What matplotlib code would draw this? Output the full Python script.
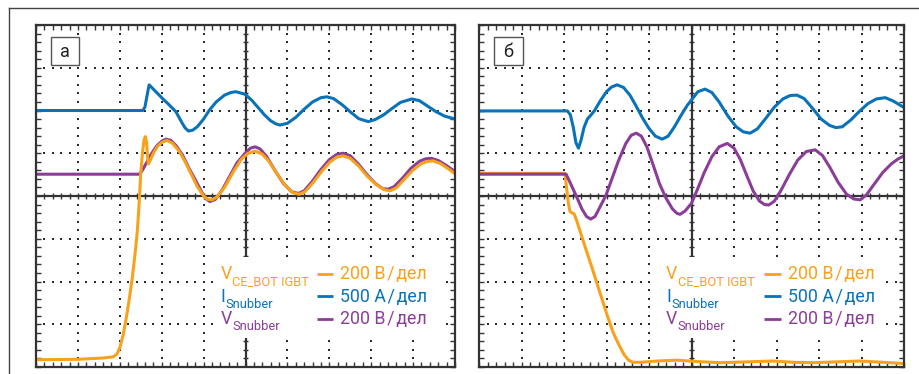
import numpy as np
import matplotlib
matplotlib.use('Agg')
import matplotlib.pyplot as plt
from matplotlib.patches import Rectangle
from matplotlib.lines import Line2D

plt.rcParams['font.family'] = ['Roboto', 'DejaVu Sans']

ORANGE = '#F8A21C'
BLUE = '#0A72B8'
PURPLE = '#8B3E97'
GRIDC = '#2b2b2b'

# ---------------- data (screen divisions: x 0..10, y -4..4) ----------------
# Panel a
a_blue_x = [0, 2.55, 2.60, 2.65, 2.70, 2.86, 3.02, 3.18, 3.34, 3.48, 3.56, 3.64, 3.74, 3.85, 4.0, 4.14, 4.3, 4.5,
            4.65, 4.77, 4.99, 5.15, 5.3, 5.45, 5.6, 5.72, 5.82, 6.0, 6.2, 6.4, 6.6, 6.8, 6.94, 7.1, 7.3, 7.5,
            7.7, 7.93, 8.1, 8.3, 8.5, 8.7, 8.97, 9.15, 9.35, 9.55, 9.75, 10.0]
a_blue_y = [2.0, 2.0, 2.08, 2.35, 2.60, 2.44, 2.28, 2.13, 1.97, 1.72, 1.59, 1.52, 1.54, 1.62, 1.80, 2.01, 2.20, 2.36,
            2.42, 2.44, 2.38, 2.24, 2.07, 1.90, 1.76, 1.69, 1.66, 1.70, 1.84, 2.03, 2.20, 2.30, 2.32, 2.28, 2.14, 1.97,
            1.81, 1.74, 1.79, 1.90, 2.05, 2.19, 2.27, 2.23, 2.10, 1.97, 1.87, 1.80]

a_purple_x = [0, 2.47, 2.55, 2.65, 2.75, 2.88, 3.0, 3.10, 3.22, 3.35, 3.5, 3.65, 3.8, 3.95, 4.05, 4.15, 4.28, 4.45,
              4.6, 4.8, 5.01, 5.12, 5.23, 5.35, 5.5, 5.7, 5.9, 6.1, 6.26, 6.4, 6.6, 6.8, 7.0, 7.17, 7.33, 7.5, 7.7,
              7.9, 8.1, 8.28, 8.41, 8.55, 8.75, 8.95, 9.15, 9.3, 9.44, 9.6, 9.8, 10.0]
a_purple_y = [0.51, 0.51, 0.62, 0.80, 0.98, 1.17, 1.28, 1.33, 1.30, 1.17, 0.95, 0.65, 0.38, 0.10, -0.06, -0.13, -0.08, 0.15,
              0.42, 0.78, 1.02, 1.12, 1.15, 1.10, 0.93, 0.60, 0.30, 0.10, 0.06, 0.12, 0.35, 0.62, 0.85, 0.97, 1.00, 0.94,
              0.74, 0.50, 0.29, 0.17, 0.16, 0.22, 0.42, 0.65, 0.81, 0.87, 0.88, 0.83, 0.71, 0.57]

a_orange_x = [0, 1.0, 1.6, 1.85, 1.93, 2.0, 2.08, 2.15, 2.22, 2.30, 2.37, 2.42, 2.46, 2.50, 2.54, 2.58, 2.61, 2.64,
              2.66, 2.68, 2.72, 2.80, 2.90, 3.0, 3.12, 3.25, 3.4, 3.55, 3.7, 3.85, 4.0, 4.1, 4.2, 4.32, 4.5, 4.7,
              4.9, 5.05, 5.23, 5.4, 5.55, 5.75, 5.95, 6.13, 6.28, 6.42, 6.62, 6.82, 7.02, 7.18, 7.33, 7.5, 7.7,
              7.9, 8.1, 8.3, 8.45, 8.6, 8.8, 9.0, 9.2, 9.35, 9.48, 9.65, 9.82, 10.0]
a_orange_y = [-3.83, -3.82, -3.79, -3.76, -3.70, -3.55, -3.25, -2.88, -2.45, -1.90, -1.30, -0.80, -0.20, 0.52, 1.00, 1.32, 1.39, 1.25,
              0.95, 0.75, 0.82, 1.00, 1.16, 1.25, 1.30, 1.24, 1.07, 0.82, 0.52, 0.22, 0.00, -0.08, -0.09, -0.02, 0.20, 0.55,
              0.86, 0.99, 1.05, 0.98, 0.82, 0.52, 0.25, 0.08, 0.04, 0.10, 0.32, 0.58, 0.80, 0.91, 0.94, 0.88, 0.70,
              0.47, 0.28, 0.15, 0.12, 0.19, 0.40, 0.61, 0.76, 0.81, 0.82, 0.76, 0.65, 0.52]

# Panel b
b_blue_x = [0, 2.08, 2.15, 2.22, 2.28, 2.34, 2.40, 2.47, 2.55, 2.63, 2.72, 2.85, 3.0, 3.12, 3.25, 3.4, 3.55, 3.7,
            3.85, 4.0, 4.15, 4.31, 4.45, 4.6, 4.75, 4.9, 5.01, 5.15, 5.32, 5.48, 5.65, 5.85, 6.05, 6.22, 6.38,
            6.55, 6.75, 6.95, 7.15, 7.32, 7.48, 7.65, 7.85, 8.05, 8.25, 8.40, 8.55, 8.75, 8.95, 9.15, 9.35,
            9.56, 9.75, 10.0]
b_blue_y = [1.99, 1.99, 1.90, 1.60, 1.25, 1.12, 1.30, 1.60, 1.80, 1.89, 2.00, 2.22, 2.44, 2.55, 2.60, 2.54, 2.36, 2.10,
            1.82, 1.58, 1.40, 1.33, 1.40, 1.62, 1.88, 2.12, 2.26, 2.44, 2.50, 2.42, 2.20, 1.88, 1.62, 1.50, 1.47,
            1.57, 1.82, 2.08, 2.27, 2.35, 2.36, 2.28, 2.05, 1.80, 1.65, 1.60, 1.62, 1.78, 1.98, 2.16, 2.27,
            2.30, 2.22, 2.07]

b_purple_x = [0, 2.05, 2.15, 2.28, 2.42, 2.53, 2.63, 2.73, 2.85, 2.98, 3.12, 3.28, 3.45, 3.58, 3.70, 3.82, 3.95, 4.1,
              4.25, 4.4, 4.55, 4.65, 4.73, 4.85, 5.0, 5.15, 5.3, 5.48, 5.65, 5.84, 6.0, 6.15, 6.3, 6.45, 6.6, 6.72,
              6.82, 6.95, 7.1, 7.3, 7.5, 7.7, 7.91, 8.08, 8.25, 8.45, 8.65, 8.82, 8.97, 9.12, 9.3, 9.5, 9.7,
              9.85, 10.0]
b_purple_y = [0.51, 0.51, 0.30, 0.02, -0.30, -0.48, -0.54, -0.48, -0.25, 0.00, 0.38, 0.82, 1.22, 1.42, 1.47, 1.40, 1.15, 0.72,
              0.28, -0.05, -0.30, -0.40, -0.43, -0.35, -0.17, 0.18, 0.55, 0.92, 1.15, 1.23, 1.12, 0.85, 0.48, 0.12, -0.12, -0.20,
              -0.21, -0.12, 0.12, 0.50, 0.84, 1.04, 1.08, 0.95, 0.68, 0.32, 0.04, -0.07, -0.09, 0.03, 0.28, 0.55, 0.75,
              0.86, 0.94]

b_orange_x = [0, 2.02, 2.06, 2.10, 2.14, 2.18, 2.24, 2.30, 2.38, 2.5, 2.65, 2.8, 3.0, 3.15, 3.3, 3.42, 3.52, 3.62,
              3.8, 4.2, 4.65, 5.1, 5.67, 6.3, 6.92, 7.4, 7.86, 8.4, 8.96, 9.5, 10.0]
b_orange_y = [0.53, 0.53, 0.20, -0.15, -0.36, -0.39, -0.42, -0.58, -0.83, -1.20, -1.65, -2.12, -2.74, -3.18, -3.50, -3.72, -3.84, -3.89,
              -3.89, -3.86, -3.84, -3.87, -3.90, -3.88, -3.86, -3.89, -3.90, -3.88, -3.86, -3.89, -3.92]

panel_labels = ['а', 'б']
legend_main = ['V', 'I', 'V']
legend_sub = ['CE_BOT IGBT', 'Snubber', 'Snubber']
legend_scale = ['200 В\u200a/\u200aдел', '500 А\u200a/\u200aдел', '200 В\u200a/\u200aдел']
legend_colors = [ORANGE, BLUE, PURPLE]

# ---------------- figure ----------------
W, H = 920, 374
fig = plt.figure(figsize=(W / 100, H / 100), dpi=100)
fig.patch.set_facecolor('white')


def add_ax(left, right, top=25, bottom=367):
    return fig.add_axes([left / W, 1 - bottom / H, (right - left) / W, (bottom - top) / H])


def style_scope(ax, label, legend_box):
    ax.set_xlim(0, 10)
    ax.set_ylim(-4, 4)
    ax.set_xticks(np.arange(0, 11, 1))
    ax.set_yticks(np.arange(-4, 5, 1))
    ax.set_xticks(np.arange(0, 10.01, 0.2), minor=True)
    ax.set_yticks(np.arange(-4, 4.01, 0.2), minor=True)
    ax.tick_params(which='both', direction='in', length=3.6, width=1.0, color='#333333',
                   top=True, right=True, labelbottom=False, labelleft=False)
    for s in ax.spines.values():
        s.set_color('#333333')
        s.set_linewidth(1.6)
        s.set_zorder(10)
    # dotted grid
    minor = np.arange(0.2, 10, 0.2)
    minor_y = np.arange(-3.8, 4, 0.2)
    for xv in [1, 2, 3, 4, 6, 7, 8, 9]:
        ax.plot(np.full_like(minor_y, xv), minor_y, ls='none', marker='s', ms=1.5, mew=0, color=GRIDC, zorder=1)
    for yv in [-3, -2, -1, 1, 2, 3]:
        ax.plot(minor, np.full_like(minor, yv), ls='none', marker='s', ms=1.5, mew=0, color=GRIDC, zorder=1)
    # center axes with ticks
    ax.axhline(0, color='#333333', lw=1.6, zorder=2)
    ax.axvline(5, color='#333333', lw=1.6, zorder=2)
    ax.vlines(minor, -0.07, 0.07, color='#333333', lw=1.0, zorder=2)
    ax.hlines(minor_y, 4.93, 5.07, color='#333333', lw=1.0, zorder=2)
    # legend background
    x0, x1, y0, y1 = legend_box
    ax.add_patch(Rectangle((x0, y0), x1 - x0, y1 - y0, facecolor='white', edgecolor='none', zorder=3))
    # panel label
    ax.add_patch(Rectangle((0.35, 3.06), 0.68, 0.67, facecolor='white', edgecolor='#555555', lw=1.0, zorder=6))
    ax.text(0.69, 3.38, label, ha='center', va='center', fontsize=13, color='#222222', zorder=7)


def legend(ax):
    line_y = [-1.82, -2.34, -2.88]
    base_y = [-1.95, -2.48, -3.00]
    for i in range(3):
        c = legend_colors[i]
        t = ax.text(4.40, base_y[i], legend_main[i], color=c, fontsize=12.8, va='baseline', ha='left', zorder=8)
        ax.annotate(legend_sub[i], xy=(1, 0), xycoords=t, xytext=(0.3, -3.4), textcoords='offset points',
                    color=c, fontsize=9.3, va='bottom', ha='left', zorder=8)
        ax.plot([6.71, 7.10], [line_y[i], line_y[i]], color=c, lw=2.0, solid_capstyle='butt', zorder=8)
        ax.text(7.26, base_y[i], legend_scale[i], color=c, fontsize=12.8, va='baseline', ha='left', zorder=8)


axA = add_ax(36, 455)
axB = add_ax(479, 904)

style_scope(axA, panel_labels[0], (4.22, 9.72, -3.31, -1.42))
style_scope(axB, panel_labels[1], (4.14, 9.55, -3.31, -1.42))

lw = 2.2
kw = dict(lw=lw, solid_joinstyle='round', solid_capstyle='round')
axA.plot(a_blue_x, a_blue_y, color=BLUE, zorder=4, **kw)
axA.plot(a_purple_x, a_purple_y, color=PURPLE, zorder=4, **kw)
axA.plot(a_orange_x, a_orange_y, color=ORANGE, zorder=5, **kw)

axB.plot(b_blue_x, b_blue_y, color=BLUE, zorder=4, **kw)
axB.plot(b_orange_x, b_orange_y, color=ORANGE, zorder=4, **kw)
axB.plot(b_purple_x, b_purple_y, color=PURPLE, zorder=5, **kw)

legend(axA)
legend(axB)

# outer frame lines
fig.add_artist(Line2D([9 / W, 1.0], [1 - 8 / H, 1 - 8 / H], transform=fig.transFigure, color='#444444', lw=1.0))
fig.add_artist(Line2D([9 / W, 9 / W], [0, 1 - 8 / H], transform=fig.transFigure, color='#444444', lw=1.0))

fig.savefig('out.png', dpi=100, facecolor='white')
